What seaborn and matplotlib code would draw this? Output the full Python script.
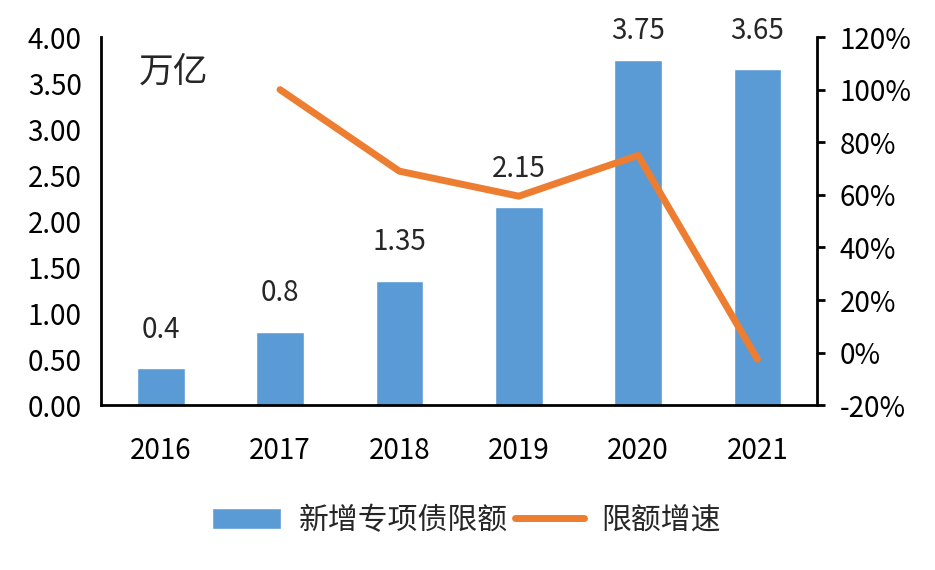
import matplotlib.pyplot as plt
import matplotlib.ticker as mticker
from matplotlib.patches import Patch
from matplotlib.lines import Line2D
import numpy as np
import pandas as pd
import seaborn as sns

years = ["2016", "2017", "2018", "2019", "2020", "2021"]
quota = [0.4, 0.8, 1.35, 2.15, 3.75, 3.65]
growth_years = ["2017", "2018", "2019", "2020", "2021"]
growth = [100, 69, 59.5, 75, -2.5]  # %

bar_color = "#5B9BD5"
line_color = "#ED7D31"

sns.set_theme(style="white")
plt.rcParams["font.family"] = ["Noto Sans CJK SC", "DejaVu Sans"]

df = pd.DataFrame({"year": years, "quota": quota})

fig = plt.figure(figsize=(9.35, 5.7), dpi=100)
ax = fig.add_axes([0.108, 0.289, 0.766, 0.646])

sns.barplot(data=df, x="year", y="quota", color=bar_color, saturation=1,
            width=0.4, ax=ax)
ax.set_ylim(0, 4)
ax.set_yticks(np.arange(0, 4.01, 0.5))
ax.yaxis.set_major_formatter(mticker.FormatStrFormatter("%.2f"))
ax.set_xlabel("")
ax.set_ylabel("")
ax.tick_params(axis="both", labelsize=20, length=0, colors="black")
ax.tick_params(axis="x", pad=22)
ax.tick_params(axis="y", pad=14)
ax.set_xlim(-0.5, len(years) - 0.5)
for side in ["top", "right"]:
    ax.spines[side].set_visible(False)
for side in ["left", "bottom"]:
    ax.spines[side].set_color("black")
    ax.spines[side].set_linewidth(2)

# labels above bars, kept inside the chart area like Excel does
label_cap = 3.65
for i, v in enumerate(quota):
    ax.annotate(f"{v:g}", (i, min(v, label_cap)), xytext=(0, 17),
                textcoords="offset points", ha="center", va="bottom",
                fontsize=20)

ax.text(0.053, 0.905, "万亿", transform=ax.transAxes, fontsize=25,
        ha="left", va="center")

ax2 = ax.twinx()
pos = [years.index(y) for y in growth_years]
sns.lineplot(x=pos, y=growth, color=line_color, linewidth=5,
             solid_capstyle="round", ax=ax2)
ax2.set_ylim(-20, 120)
ax2.set_yticks(np.arange(-20, 121, 20))
ax2.yaxis.set_major_formatter(mticker.FormatStrFormatter("%d%%"))
ax2.tick_params(axis="y", labelsize=20, length=6, width=2, colors="black",
                right=True, pad=10)
for side in ["top", "left", "bottom"]:
    ax2.spines[side].set_visible(False)
ax2.spines["right"].set_color("black")
ax2.spines["right"].set_linewidth(2)
ax2.set_xlim(-0.5, len(years) - 0.5)

handles = [
    Patch(facecolor=bar_color, label="新增专项债限额"),
    Line2D([0], [0], color=line_color, linewidth=5, solid_capstyle="round",
           label="限额增速"),
]
fig.legend(handles=handles, loc="center", bbox_to_anchor=(0.499, 0.087),
           ncol=2, frameon=False, fontsize=21.5, handlelength=2.3,
           handletextpad=0.6, columnspacing=0.25)

fig.savefig("out.png", dpi=100)
